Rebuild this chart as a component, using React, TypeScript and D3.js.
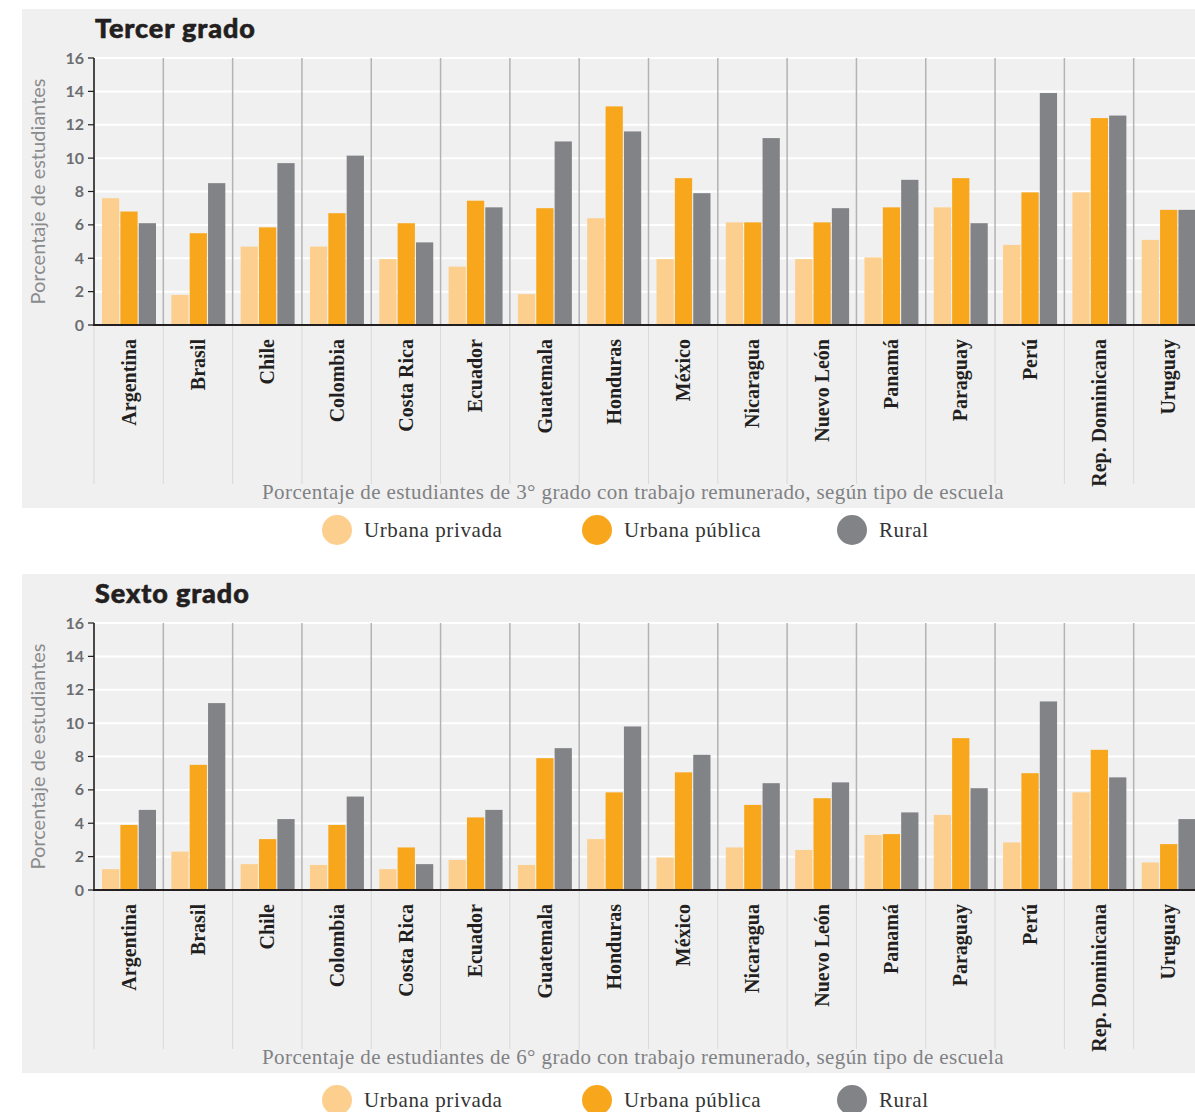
import React from "react";
import * as d3 from "d3";

const countries = [
  "Argentina", "Brasil", "Chile", "Colombia", "Costa Rica", "Ecuador", "Guatemala", "Honduras",
  "México", "Nicaragua", "Nuevo León", "Panamá", "Paraguay", "Perú", "Rep. Dominicana", "Uruguay",
];
const seriesNames = ["Urbana privada", "Urbana pública", "Rural"];
const seriesColors = ["#FDCF8E", "#F8A71D", "#828386"];

// Tercer grado
const tercerPrivada = [7.6, 1.8, 4.7, 4.7, 3.95, 3.5, 1.85, 6.4, 3.95, 6.15, 3.95, 4.05, 7.05, 4.8, 7.95, 5.1];
const tercerPublica = [6.8, 5.5, 5.85, 6.7, 6.1, 7.45, 7.0, 13.1, 8.8, 6.15, 6.15, 7.05, 8.8, 7.95, 12.4, 6.9];
const tercerRural = [6.1, 8.5, 9.7, 10.15, 4.95, 7.05, 11.0, 11.6, 7.9, 11.2, 7.0, 8.7, 6.1, 13.9, 12.55, 6.9];

// Sexto grado
const sextoPrivada = [1.25, 2.3, 1.55, 1.5, 1.25, 1.8, 1.5, 3.05, 1.95, 2.55, 2.4, 3.3, 4.5, 2.85, 5.85, 1.65];
const sextoPublica = [3.9, 7.5, 3.05, 3.9, 2.55, 4.35, 7.9, 5.85, 7.05, 5.1, 5.5, 3.35, 9.1, 7.0, 8.4, 2.75];
const sextoRural = [4.8, 11.2, 4.25, 5.6, 1.55, 4.8, 8.5, 9.8, 8.1, 6.4, 6.45, 4.65, 6.1, 11.3, 6.75, 4.25];

const yTicks = [0, 2, 4, 6, 8, 10, 12, 14, 16];

const W = 1195;
const H = 1112;

const SANS = "Lato, 'Open Sans', sans-serif";
const SERIF = "'Liberation Serif', 'DejaVu Serif', serif";

function Panel({
  offsetY,
  legendY,
  title,
  subtitle,
  data,
}: {
  offsetY: number;
  legendY: number;
  title: string;
  subtitle: string;
  data: number[][];
}) {
  const plotLeft = 94;
  const plotRight = 1203;
  const yZero = 325;
  const yTop = 58;
  const x = d3.scaleBand<string>().domain(countries).range([plotLeft, plotRight]).padding(0);
  const inner = d3.scaleBand<number>().domain([0, 1, 2]).range([8, 62]).paddingInner(0.06);
  const y = d3.scaleLinear().domain([0, 16]).range([yZero, yTop]);
  const bw = x.bandwidth();

  return (
    <g transform={`translate(0,${offsetY})`}>
      <rect x={22} y={9} width={W - 22} height={499} fill="#F0F0F0" />
      <text
        x={95}
        y={38}
        fontFamily={SANS}
        fontWeight={900}
        fontSize={27}
        letterSpacing={0.9}
        fill="#231F20"
        stroke="#231F20"
        strokeWidth={0.6}
      >
        {title}
      </text>
      {/* gridlines */}
      {yTicks.slice(1).map((t) => (
        <line key={t} x1={plotLeft} x2={W} y1={y(t)} y2={y(t)} stroke="#FFFFFF" strokeWidth={2} />
      ))}
      {/* dividers */}
      {countries.map((c) => (
        <g key={c}>
          <line x1={x(c)!} x2={x(c)!} y1={yZero} y2={484} stroke="#D9D9D9" strokeWidth={1} />
          <line x1={x(c)!} x2={x(c)!} y1={yTop} y2={yZero} stroke="#B3B3B3" strokeWidth={1.5} />
        </g>
      ))}
      {/* bars */}
      {countries.map((c, i) => (
        <g key={c} transform={`translate(${x(c)},0)`}>
          {data.map((s, k) => (
            <rect
              key={k}
              x={inner(k)!}
              y={y(s[i])}
              width={inner.bandwidth()}
              height={yZero - y(s[i])}
              fill={seriesColors[k]}
            />
          ))}
        </g>
      ))}
      {/* axes */}
      <line x1={plotLeft} x2={plotLeft} y1={yTop} y2={yZero} stroke="#231F20" strokeWidth={1.5} />
      <line x1={plotLeft - 1} x2={W} y1={yZero} y2={yZero} stroke="#231F20" strokeWidth={2} />
      {yTicks.map((t) => (
        <g key={t}>
          <line x1={plotLeft - 6} x2={plotLeft} y1={y(t)} y2={y(t)} stroke="#231F20" strokeWidth={1.2} />
          <text
            x={84}
            y={y(t)}
            dy="0.35em"
            textAnchor="end"
            fontFamily={SANS}
            fontWeight={700}
            fontSize={16}
            fill="#6D6E71"
          >
            {t}
          </text>
        </g>
      ))}
      <text
        transform={`translate(45,${(yTop + yZero) / 2}) rotate(-90)`}
        textAnchor="middle"
        fontFamily={SANS}
        fontSize={20}
        fill="#8A8B8D"
      >
        Porcentaje de estudiantes
      </text>
      {/* country labels */}
      {countries.map((c) => (
        <text
          key={c}
          transform={`translate(${x(c)! + bw / 2},339) rotate(-90)`}
          textAnchor="end"
          dy="0.35em"
          fontFamily={SERIF}
          fontWeight={700}
          fontSize={20}
          fill="#231F20"
        >
          {c}
        </text>
      ))}
      <text
        x={633}
        y={499}
        textAnchor="middle"
        fontFamily={SERIF}
        fontSize={21}
        letterSpacing={0.4}
        fill="#808184"
      >
        {subtitle}
      </text>
      {/* legend */}
      {seriesNames.map((n, k) => {
        const lx = [337, 597, 852][k];
        return (
          <g key={n}>
            <circle cx={lx} cy={legendY} r={15} fill={seriesColors[k]} />
            <text
              x={lx + 27}
              y={legendY}
              dy="0.35em"
              fontFamily={SERIF}
              fontSize={21}
              letterSpacing={0.6}
              fill="#333333"
            >
              {n}
            </text>
          </g>
        );
      })}
    </g>
  );
}

export default function App() {
  return (
    <svg
      width={W}
      height={H}
      style={{ position: "absolute", left: 0, top: 0, background: "#FFFFFF" }}
    >
      <Panel
        offsetY={0}
        legendY={530}
        title="Tercer grado"
        subtitle="Porcentaje de estudiantes de 3° grado con trabajo remunerado, según tipo de escuela"
        data={[tercerPrivada, tercerPublica, tercerRural]}
      />
      <Panel
        offsetY={565}
        legendY={535}
        title="Sexto grado"
        subtitle="Porcentaje de estudiantes de 6° grado con trabajo remunerado, según tipo de escuela"
        data={[sextoPrivada, sextoPublica, sextoRural]}
      />
    </svg>
  );
}
